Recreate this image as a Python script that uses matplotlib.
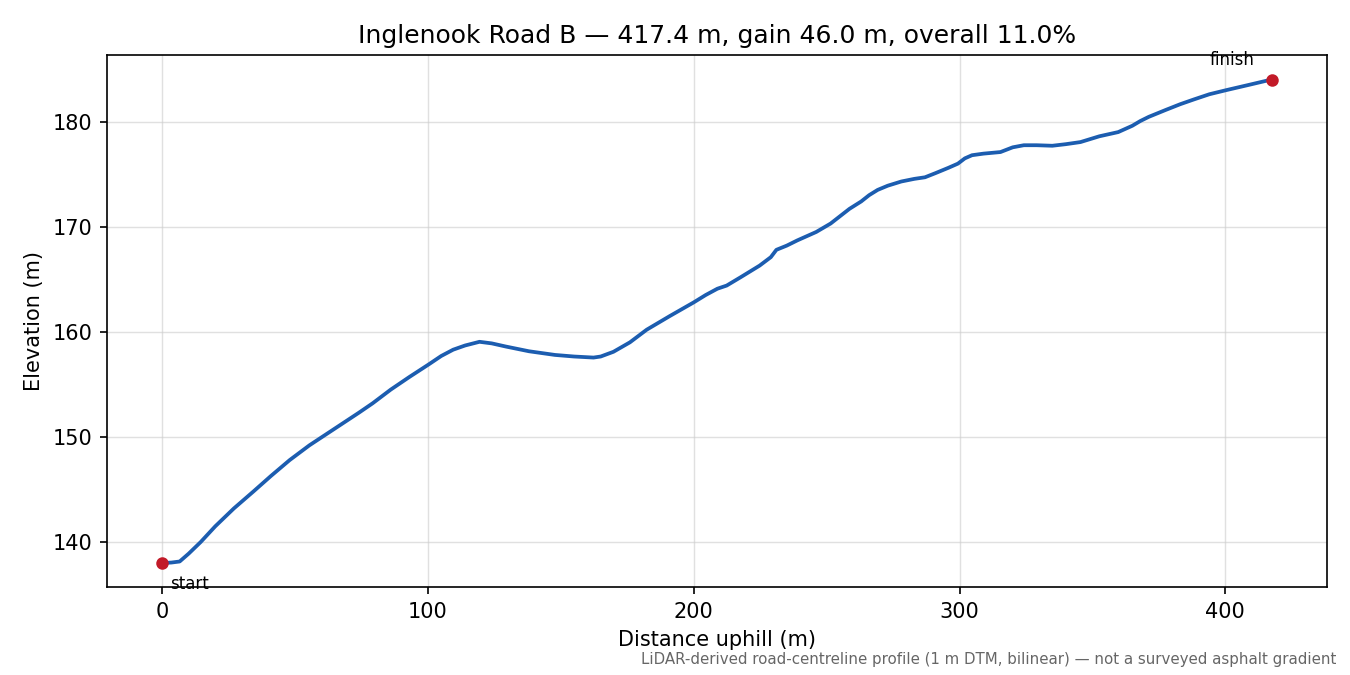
import matplotlib
matplotlib.use("Agg")
import matplotlib.pyplot as plt

distance_m = [0, 3.5, 6.6, 10, 14.5, 20, 27, 34.3, 41, 48, 55.4, 62, 68.6, 74, 79.2,
              86, 93, 100.3, 105, 109.5, 114, 119.4, 124, 129.3, 138, 147.8, 155, 162.3,
              165, 169.8, 176, 182.3, 191, 200, 204.5, 208.9, 212.4, 217.7, 224.8, 229, 231.1,
              235, 239, 246.1, 251.5, 258.6, 263, 266, 269.2, 273, 278.1, 283, 287,
              291, 295.8, 299.4, 302, 304.7, 309, 315.4, 320, 324.2, 329, 334.9, 340,
              345.5, 352.6, 359.7, 365, 368, 371.2, 377.5, 383, 388.1, 394, 400.5, 409, 417.4]
elevation_m = [138.0, 138.05, 138.15, 138.9, 140.0, 141.5, 143.2, 144.8, 146.3, 147.8, 149.2, 150.3, 151.4, 152.3, 153.2,
               154.5, 155.7, 156.9, 157.7, 158.3, 158.7, 159.05, 158.9, 158.6, 158.15, 157.8, 157.65, 157.55,
               157.65, 158.1, 159.0, 160.2, 161.5, 162.8, 163.5, 164.1, 164.4, 165.2, 166.3, 167.1, 167.8,
               168.2, 168.7, 169.5, 170.3, 171.7, 172.4, 173.0, 173.5, 173.9, 174.3, 174.55, 174.7,
               175.1, 175.6, 176.0, 176.5, 176.8, 176.95, 177.1, 177.55, 177.75, 177.75, 177.7, 177.85,
               178.05, 178.6, 179.0, 179.6, 180.05, 180.45, 181.1, 181.65, 182.1, 182.6, 183.0, 183.5, 184.0]

title_text = "Inglenook Road B \u2014 417.4 m, gain 46.0 m, overall 11.0%"
footnote_text = "LiDAR-derived road-centreline profile (1 m DTM, bilinear) \u2014 not a surveyed asphalt gradient"

fig, ax = plt.subplots(figsize=(9, 4.5), dpi=150)
fig.subplots_adjust(left=0.079, right=0.983, top=0.918, bottom=0.13)

ax.plot(distance_m, elevation_m, color="#1c5db0", lw=1.8, zorder=3,
        solid_joinstyle="round")
ax.plot([distance_m[0], distance_m[-1]], [elevation_m[0], elevation_m[-1]], "o",
        color="#c21a28", ms=5, zorder=4)
ax.annotate("start", (distance_m[0], elevation_m[0]), xytext=(4, -5.5),
            textcoords="offset points", ha="left", va="top", fontsize=8)
ax.annotate("finish", (distance_m[-1], elevation_m[-1]), xytext=(-8, 5),
            textcoords="offset points", ha="right", va="bottom", fontsize=8)

ax.grid(True, color="#cccccc", alpha=0.6, lw=0.7)
ax.set_axisbelow(True)
ax.set_xlabel("Distance uphill (m)")
ax.set_ylabel("Elevation (m)")
ax.set_title(title_text)
fig.text(0.99, 0.012, footnote_text, ha="right", va="bottom", fontsize=7.2, color="#666666")

fig.savefig("out.png", dpi=150)
